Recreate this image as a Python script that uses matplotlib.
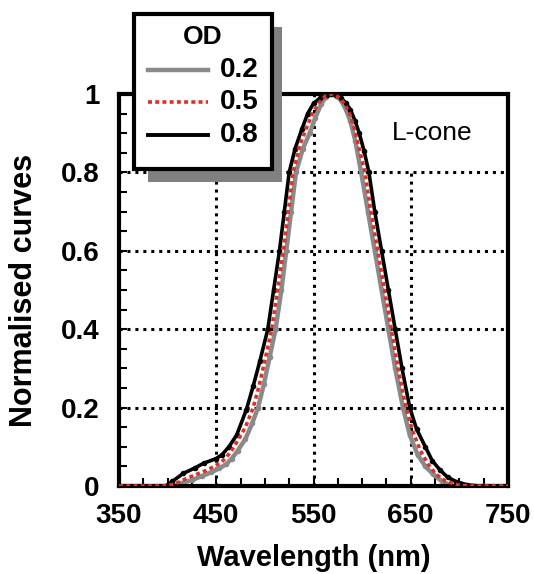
import matplotlib
matplotlib.use("Agg")
import matplotlib.pyplot as plt
from matplotlib.patches import Rectangle
from matplotlib.lines import Line2D

plt.rcParams["font.family"] = ["Liberation Sans", "DejaVu Sans"]
plt.rcParams["font.weight"] = "bold"

# OD 0.8 (black)
wl_08 = [350, 398, 405, 416, 428, 437, 450, 456, 463, 471, 481, 488, 495, 503, 509,
         515, 520, 525, 531, 538, 544, 550, 557, 564, 568, 573, 578, 583, 588, 593,
         597, 602, 607, 613, 620, 627, 634, 641, 649, 656, 665, 672, 680, 688, 697,
         708, 720, 750]
od_08 = [0, 0, 0.012, 0.032, 0.046, 0.058, 0.07, 0.08, 0.1, 0.13, 0.195, 0.255, 0.32, 0.4, 0.5,
         0.6, 0.7, 0.8, 0.86, 0.91, 0.95, 0.976, 0.99, 0.998, 1.0, 0.997, 0.99, 0.978, 0.96, 0.93,
         0.9, 0.855, 0.8, 0.7, 0.6, 0.5, 0.4, 0.3, 0.2, 0.145, 0.1, 0.065, 0.041, 0.022, 0.011,
         0.003, 0, 0]

# OD 0.5 (red dotted)
wl_05 = [350, 400, 410, 420, 430, 440, 448, 455, 461, 467, 473, 480, 488, 494, 500,
         507, 513, 519, 524, 529, 536, 543, 549, 555, 562, 568, 573, 578, 583, 588,
         592, 596, 603, 609, 616, 623, 630, 637, 645, 652, 660, 668, 676, 686, 698,
         710, 750]
od_05 = [0, 0, 0.008, 0.02, 0.03, 0.04, 0.05, 0.06, 0.075, 0.095, 0.12, 0.15, 0.2, 0.255, 0.32,
         0.4, 0.5, 0.6, 0.7, 0.8, 0.87, 0.915, 0.95, 0.975, 0.995, 1.0, 0.996, 0.988, 0.97, 0.945,
         0.91, 0.87, 0.8, 0.7, 0.6, 0.5, 0.4, 0.3, 0.2, 0.14, 0.09, 0.055, 0.03, 0.012, 0.003,
         0, 0]

# OD 0.2 (grey)
wl_02 = [350, 405, 415, 425, 435, 445, 453, 460, 466, 472, 480, 487, 493, 499, 505,
         511, 517, 522, 527, 532, 539, 546, 552, 558, 563, 568, 573, 578, 583, 588,
         593, 599, 606, 613, 620, 627, 634, 642, 649, 657, 665, 673, 682, 692, 750]
od_02 = [0, 0, 0.008, 0.015, 0.025, 0.035, 0.045, 0.055, 0.07, 0.09, 0.12, 0.16, 0.2, 0.26, 0.33,
         0.4, 0.5, 0.6, 0.7, 0.8, 0.86, 0.9, 0.94, 0.975, 0.993, 1.0, 0.995, 0.985, 0.962, 0.93,
         0.88, 0.8, 0.7, 0.6, 0.5, 0.4, 0.3, 0.2, 0.13, 0.08, 0.05, 0.03, 0.012, 0, 0]

od_labels = ["0.2", "0.5", "0.8"]
x_ticks = [350, 450, 550, 650, 750]
y_ticks = [0, 0.2, 0.4, 0.6, 0.8, 1.0]
y_ticklabels = ["0", "0.2", "0.4", "0.6", "0.8", "1"]

GREY = "#8a8a8a"
RED = "#dc3228"
W, H = 534, 574

fig = plt.figure(figsize=(W / 100, H / 100), dpi=100)
ax = fig.add_axes([119 / W, 1 - 486 / H, 389 / W, 392 / H])

# dotted grid
dots = (0, (1, 1.6))
for gx, top in zip([450, 550, 650], [1.0, 1.0, 0.8]):
    ax.axvline(gx, ymax=top, color="black", lw=2.2, ls=dots, zorder=1)
for gy in [0.2, 0.4, 0.6, 0.8]:
    ax.axhline(gy, color="black", lw=2.2, ls=dots, zorder=1)

ax.plot(wl_02, od_02, color=GREY, lw=3.2, marker="o", ms=3, markevery=slice(2, -2), zorder=2)
ax.plot(wl_08, od_08, color="black", lw=2.6, marker="o", ms=3, markevery=slice(2, -2), zorder=3)
ax.plot(wl_05, od_05, color=RED, lw=2.6, ls=(0, (1.1, 0.9)), zorder=4)

ax.set_xlim(350, 750)
ax.set_ylim(0, 1)
ax.set_xticks(x_ticks)
ax.set_xticks(range(350, 751, 25), minor=True)
ax.set_yticks(y_ticks, y_ticklabels)
ax.set_yticks([i * 0.05 for i in range(21)], minor=True)
ax.tick_params(which="both", direction="in", length=6, width=1.5, top=False, right=False,
               labelsize=20)
ax.tick_params(axis="x", pad=12)
ax.tick_params(axis="y", pad=14)
for s in ax.spines.values():
    s.set_linewidth(3)

ax.set_xlabel("Wavelength (nm)", fontsize=21, fontweight="bold")
ax.set_ylabel("Normalised curves", fontsize=22, fontweight="bold")
ax.xaxis.set_label_coords(0.5, -0.147)
ax.yaxis.set_label_coords(-0.206, 0.5)

ax.text(672, 0.9, "L-cone", ha="center", va="center", fontsize=19, fontweight="normal")

# legend box with drop shadow, partly outside the axes
def fx(px):
    return px / W

def fy(py):
    return 1 - py / H

fig.add_artist(Rectangle((fx(148), fy(182)), fx(282) - fx(148), fy(27) - fy(182),
                         transform=fig.transFigure, facecolor="#808080", edgecolor="none", zorder=5))
fig.add_artist(Rectangle((fx(134), fy(169)), fx(272) - fx(134), fy(14) - fy(169),
                         transform=fig.transFigure, facecolor="white", edgecolor="black",
                         lw=3, zorder=6))
fig.text(fx(203), fy(37), "OD", ha="center", va="center", fontsize=19, zorder=7)
styles = [dict(color=GREY, lw=3.2), dict(color=RED, lw=2.6, ls=(0, (1.1, 0.9))),
          dict(color="black", lw=2.8)]
for lab, st, py in zip(od_labels, styles, [70, 102, 135]):
    fig.add_artist(Line2D([fx(148), fx(208)], [fy(py), fy(py)], transform=fig.transFigure,
                          zorder=7, **st))
    fig.text(fx(220), fy(py), lab, ha="left", va="center", fontsize=20, zorder=7)

fig.savefig("out.png", dpi=100)
